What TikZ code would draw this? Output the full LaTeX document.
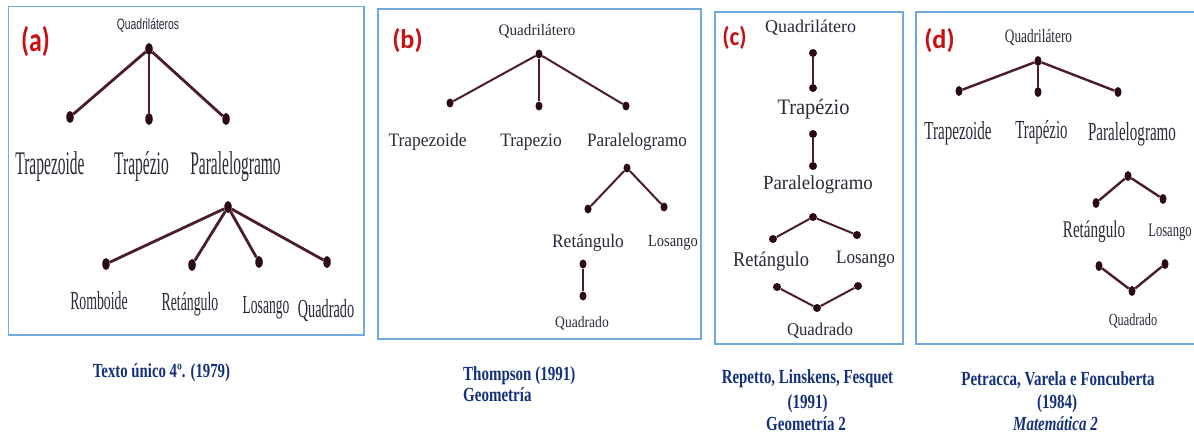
\documentclass[tikz,border=0pt]{standalone}
\usepackage{fontspec}
\setmainfont{Liberation Serif}
\newfontfamily\sansA{Liberation Sans}
\newfontfamily\calib{Carlito}
\usetikzlibrary{shapes.geometric}
\definecolor{linec}{HTML}{4A1C2C}
\definecolor{dotc}{HTML}{2B0A16}
\definecolor{labc}{HTML}{2A2838}
\definecolor{capc}{HTML}{14307A}
\definecolor{boxc}{HTML}{72AADF}
\definecolor{redc}{HTML}{C81010}
\newcommand\fs[3]{\fontsize{#1}{#1}\selectfont\scalebox{#2}[1]{#3}}
\tikzset{
  lab/.style={inner sep=0pt, anchor=base, text=labc},
  plab/.style={inner sep=0pt, anchor=center, text=redc, font=\calib\bfseries},
  captxt/.style={inner sep=0pt, anchor=base, text=capc, font=\bfseries},
  panel/.style={draw=boxc, line width=1.4pt},
  dotA/.style={ellipse, fill=dotc, inner sep=0pt, minimum width=7.5pt, minimum height=12pt},
  dotB/.style={ellipse, fill=dotc, inner sep=0pt, minimum width=7pt, minimum height=9pt},
  dotC/.style={ellipse, fill=dotc, inner sep=0pt, minimum width=8pt, minimum height=8pt},
  dotD/.style={ellipse, fill=dotc, inner sep=0pt, minimum width=7pt, minimum height=10pt},
  ea/.style={draw=linec, line width=2.8pt},
  eb/.style={draw=linec, line width=2pt},
  ec/.style={draw=linec, line width=2pt},
  ed/.style={draw=linec, line width=2.4pt},
}
\begin{document}
\begin{tikzpicture}[x=1pt, y=-1pt]
\useasboundingbox (0,0) rectangle (1194,436);
\clip (0,0) rectangle (1194,436);
% panel boxes
\draw[panel] (8.5,6.5) rectangle (364,335);
\draw[panel] (378,9) rectangle (701,339);
\draw[panel] (715,12) rectangle (903,344);
\draw[panel] (916,12) rectangle (1200,344);
% panel labels
\node[plab] (pa) at (35.5,41) {\fs{34}{0.76}{(a)}};
\node[plab] (pb) at (407.5,40.5) {\fs{27}{0.97}{(b)}};
\node[plab] (pc) at (734.5,37.5) {\fs{26}{0.9}{(c)}};
\node[plab] (pd) at (939.5,41) {\fs{27}{0.97}{(d)}};

% ---------- (a)
\node[dotA] (a0) at (149,49) {};
\node[dotA] (a1) at (70,117) {};
\node[dotA] (a2) at (149,119) {};
\node[dotA] (a3) at (226,119) {};
\node[dotA] (a4) at (228,207) {};
\node[dotA] (a5) at (106,264) {};
\node[dotA] (a6) at (192,265) {};
\node[dotA] (a7) at (259,262) {};
\node[dotA] (a8) at (327,262) {};
\foreach \t in {a1,a2,a3} \draw[ea] (a0) -- (\t);
\foreach \t in {a5,a6,a7,a8} \draw[ea] (a4) -- (\t);
\node[lab] (ta0) at (148,30) {\sansA\fs{15}{0.69}{Quadriláteros}};
\node[lab] (ta1) at (50,174) {\fs{33}{0.47}{Trapezoide}};
\node[lab] (ta2) at (141.5,174) {\fs{33}{0.47}{Trapézio}};
\node[lab] (ta3) at (235.5,174) {\fs{33}{0.47}{Paralelogramo}};
\node[lab] (ta5) at (99,309) {\fs{26}{0.53}{Romboide}};
\node[lab] (ta6) at (190,310) {\fs{26}{0.53}{Retángulo}};
\node[lab] (ta7) at (266,313) {\fs{26}{0.52}{Losango}};
\node[lab] (ta8) at (326,317) {\fs{26}{0.55}{Quadrado}};
\node[captxt] (ca) at (161.5,377) {\fs{20}{0.74}{Texto único 4º. (1979)}};

% ---------- (b)
\node[dotB] (b0) at (539,54) {};
\node[dotB] (b1) at (450,103) {};
\node[dotB] (b2) at (539,106) {};
\node[dotB] (b3) at (626,106) {};
\node[dotB] (b4) at (627,168) {};
\node[dotB] (b5) at (588,209) {};
\node[dotB] (b6) at (664,207) {};
\node[dotB] (b7) at (583,264) {};
\node[dotB] (b8) at (583,296) {};
\foreach \t in {b1,b2,b3} \draw[eb] (b0) -- (\t);
\foreach \t in {b5,b6} \draw[eb] (b4) -- (\t);
\draw[eb] (b7) -- (b8);
\node[lab] (tb0) at (537,36) {\fs{16}{0.95}{Quadrilátero}};
\node[lab] (tb1) at (427.5,146) {\fs{19}{0.92}{Trapezoide}};
\node[lab] (tb2) at (531,146) {\fs{19}{0.92}{Trapezio}};
\node[lab] (tb3) at (637,146) {\fs{19}{0.90}{Paralelogramo}};
\node[lab] (tb5) at (588,247) {\fs{19}{0.92}{Retángulo}};
\node[lab] (tb6) at (673,246) {\fs{17}{0.85}{Losango}};
\node[lab] (tb8) at (582,327) {\fs{16}{0.85}{Quadrado}};
\node[captxt, anchor=base west] (cb1) at (463,380) {\fs{20}{0.75}{Thompson (1991)}};
\node[captxt, anchor=base west] (cb2) at (463,401.7) {\fs{20}{0.75}{Geometría}};

% ---------- (c)
\node[dotC] (c0) at (813,53) {};
\node[dotC] (c1) at (813,88) {};
\node[dotC] (c2) at (813,134) {};
\node[dotC] (c3) at (813,166) {};
\node[dotC] (c4) at (813,217) {};
\node[dotC] (c5) at (773,239) {};
\node[dotC] (c6) at (857,235) {};
\node[dotC] (c7) at (777,287) {};
\node[dotC] (c8) at (858,286) {};
\node[dotC] (c9) at (817,308) {};
\draw[ec] (c0) -- (c1);
\draw[ec] (c2) -- (c3);
\draw[ec] (c4) -- (c5);
\draw[ec] (c4) -- (c6);
\draw[ec] (c7) -- (c9);
\draw[ec] (c8) -- (c9);
\node[lab] (tc0) at (810.5,33) {\fs{18}{1.0}{Quadrilátero}};
\node[lab] (tc1) at (813.5,114) {\fs{22}{0.93}{Trapézio}};
\node[lab] (tc3) at (818,189) {\fs{20}{0.94}{Paralelogramo}};
\node[lab] (tc5) at (771,266.5) {\fs{21}{0.88}{Retángulo}};
\node[lab] (tc6) at (865.5,263) {\fs{19}{0.90}{Losango}};
\node[lab] (tc9) at (820,335) {\fs{18}{0.93}{Quadrado}};
\node[captxt] (cc1) at (807.5,383) {\fs{20}{0.745}{Repetto, Linskens, Fesquet}};
\node[captxt] (cc2) at (807.5,408) {\fs{20}{0.75}{(1991)}};
\node[captxt] (cc3) at (806,430) {\fs{20}{0.75}{Geometría 2}};

% ---------- (d)
\node[dotD] (d0) at (1038,61) {};
\node[dotD] (d1) at (959,91) {};
\node[dotD] (d2) at (1038,92) {};
\node[dotD] (d3) at (1118,92) {};
\node[dotD] (d4) at (1128,176) {};
\node[dotD] (d5) at (1096,203) {};
\node[dotD] (d6) at (1163,199) {};
\node[dotD] (d7) at (1099,266) {};
\node[dotD] (d8) at (1165,264) {};
\node[dotD] (d9) at (1132,291) {};
\foreach \t in {d1,d2,d3} \draw[ed] (d0) -- (\t);
\foreach \t in {d5,d6} \draw[ed] (d4) -- (\t);
\draw[ed] (d7) -- (d9);
\draw[ed] (d8) -- (d9);
\node[lab] (td0) at (1038.5,43) {\fs{19}{0.70}{Quadrilátero}};
\node[lab] (td1) at (958,139) {\fs{26}{0.58}{Trapezoide}};
\node[lab] (td2) at (1041.5,138.5) {\fs{26}{0.57}{Trapézio}};
\node[lab] (td3) at (1132,140.5) {\fs{26}{0.58}{Paralelogramo}};
\node[lab] (td5) at (1094,237) {\fs{24}{0.63}{Retángulo}};
\node[lab] (td6) at (1170,236.5) {\fs{19}{0.66}{Losango}};
\node[lab] (td9) at (1133,325) {\fs{17}{0.72}{Quadrado}};
\node[captxt] (cd1) at (1058,385) {\fs{20}{0.75}{Petracca, Varela e Foncuberta}};
\node[captxt] (cd2) at (1057,408) {\fs{20}{0.75}{(1984)}};
\node[captxt] (cd3) at (1055.5,430) {\fs{20}{0.75}{\itshape Matemática 2}};
\end{tikzpicture}
\end{document}
